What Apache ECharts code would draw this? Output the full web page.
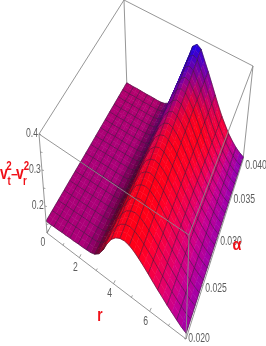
<!DOCTYPE html>
<html><head><meta charset="utf-8"><style>html,body{margin:0;padding:0;background:#fff}#c{width:266px;height:346px}</style>
<script src="https://cdn.jsdelivr.net/npm/echarts@6/dist/echarts.min.js"></script></head><body><div id="c"></div>
<script>
const rValues=[0,.25,.49,.74,.99,1.23,1.48,1.73,1.98,2.22,2.47,2.72,2.96,3.21,3.46,3.70,3.95,4.20,4.44,4.69,4.94,5.18,5.43,5.68,5.93,6.17,6.42,6.67,6.91,7.16,7.41,7.65,7.90];
const alphaValues=[.02,.025,.03,.035,.04];
const z020=[.158,.158,.159,.159,.160,.160,.161,.161,.162,.162,.163,.164,.168,.178,.197,.222,.243,.256,.263,.265,.262,.255,.245,.234,.222,.210,.198,.187,.176,.166,.156,.147,.140];
const z025=[.155,.155,.156,.156,.157,.157,.158,.158,.159,.159,.160,.161,.166,.178,.200,.229,.256,.274,.284,.288,.285,.276,.264,.250,.235,.220,.205,.191,.178,.166,.156,.147,.140];
const z030=[.152,.152,.153,.153,.154,.154,.155,.155,.155,.156,.156,.158,.164,.178,.205,.240,.272,.296,.310,.315,.311,.300,.285,.267,.248,.229,.211,.194,.179,.166,.155,.145,.138];
const z035=[.150,.150,.150,.150,.151,.151,.151,.151,.152,.152,.153,.155,.162,.178,.208,.246,.284,.316,.336,.345,.340,.325,.305,.281,.256,.232,.211,.192,.176,.163,.151,.142,.136];
const z040=[.147,.147,.147,.148,.148,.148,.148,.149,.149,.149,.150,.153,.160,.175,.210,.250,.290,.330,.368,.380,.372,.345,.318,.290,.262,.236,.212,.192,.174,.160,.148,.140,.134];
const zRows=[z020,z025,z030,z035,z040];
const rTicks=[0,2,4,6];
const alphaTicks=[.02,.025,.03,.035,.04];
const alphaLabels=['0.020','0.025','0.030','0.035','0.040'];
const zTicks=[.2,.3,.4];
const zLabels=['0.2','0.3','0.4'];

// camera: where the box corners land on the page
const R_MAX=7.9,A_MIN=.02,A_MAX=.04,Z_MIN=.125,Z_MAX=.4;
const bottomQuad=[[47,233],[186,339],[243,160],[127,90]];
const topQuad=[[39,134],[189,235],[253,66],[124,0]];
function homography(q){
  const [x0,y0]=q[0],[x1,y1]=q[1],[x2,y2]=q[2],[x3,y3]=q[3];
  const dx1=x1-x2,dx2=x3-x2,sx=x0-x1+x2-x3,dy1=y1-y2,dy2=y3-y2,sy=y0-y1+y2-y3;
  const den=dx1*dy2-dx2*dy1,g=(sx*dy2-dx2*sy)/den,h=(dx1*sy-sx*dy1)/den;
  const a=x1-x0+g*x1,b=x3-x0+h*x3,d=y1-y0+g*y1,e=y3-y0+h*y3;
  return (u,v)=>{const w=g*u+h*v+1;return [(a*u+b*v+x0)/w,(d*u+e*v+y0)/w];};
}
const Hb=homography(bottomQuad),Ht=homography(topQuad);
function project(r,al,z){
  const u=r/R_MAX,v=(al-A_MIN)/(A_MAX-A_MIN),w=(z-Z_MIN)/(Z_MAX-Z_MIN);
  const p=Hb(u,v),q=Ht(u,v);
  return [p[0]+(q[0]-p[0])*w,p[1]+(q[1]-p[1])*w];
}
// surface colour table (lit colours)
const colorR=[0,2.2,2.7,3.2,3.7,4.2,4.7,5.2,5.7,6.2,6.7,7.2,7.9];
const colorRows=[
 ['ac0078','ac0078','8c0068','700028','e00020','ff0020','ff0018','ff0018','ff0030','f00050','e00070','c80090','a000a8'],
 ['ac0078','ac0078','7c005a','500020','c00018','f00020','ff0018','ff0018','ff0030','f00050','e00070','c80090','a000a8'],
 ['ac0078','ac0078','740054','480028','900040','d00050','f00030','ff0018','ff0020','f80040','e00070','c80090','a000a8'],
 ['b00074','b00074','740058','500060','4800a0','6000a8','a00088','e00040','ff0018','ff0020','f00060','c80090','9800b0'],
 ['b4006c','b4006c','800060','4a0090','2000d0','1000f0','1800e8','5000c8','9800a0','e00050','ff0030','c80088','8800b8']
].map(row=>row.map(h=>[parseInt(h.slice(0,2),16),parseInt(h.slice(2,4),16),parseInt(h.slice(4,6),16)]));
function colorAt(r,aF){
  let k=0;while(k<colorR.length-2&&r>colorR[k+1])k++;
  const t=(r-colorR[k])/(colorR[k+1]-colorR[k]);
  const y=aF*(colorRows.length-1),j=Math.min(Math.floor(y),colorRows.length-2),s=y-j;
  const c=[0,1,2].map(n=>{
    const a=colorRows[j][k][n]+(colorRows[j][k+1][n]-colorRows[j][k][n])*t;
    const b=colorRows[j+1][k][n]+(colorRows[j+1][k+1][n]-colorRows[j+1][k][n])*t;
    return Math.round(a+(b-a)*s);});
  return 'rgb('+c.join(',')+')';
}
const A_STEPS=32;
function zAt(i,aS){
  const y=aS/A_STEPS*(zRows.length-1),j=Math.min(Math.floor(y),zRows.length-2),s=y-j;
  return zRows[j][i]+(zRows[j+1][i]-zRows[j][i])*s;
}
function alAt(aS){return A_MIN+(A_MAX-A_MIN)*aS/A_STEPS;}
const cells=[];
for(let a=A_STEPS-1;a>=0;a--)for(let i=0;i<rValues.length-1;i++)cells.push([i,a]);

const MESH='rgba(45,20,50,.6)';
function renderCell(params,api){
  const i=api.value(0),a=api.value(1);
  const P=(ii,aa)=>api.coord(project(rValues[ii],alAt(aa),zAt(ii,aa)));
  const p00=P(i,a),p10=P(i+1,a),p11=P(i+1,a+1),p01=P(i,a+1);
  const col=colorAt((rValues[i]+rValues[i+1])/2,(a+.5)/A_STEPS);
  const ch=[{type:'polygon',shape:{points:[p00,p10,p11,p01]},style:{fill:col,stroke:col,lineWidth:.5}}];
  const line=(x,y)=>ch.push({type:'line',shape:{x1:x[0],y1:x[1],x2:y[0],y2:y[1]},style:{stroke:MESH,lineWidth:.9}});
  if(i%2===0)line(p00,p01);
  if(a%2===1)line(p01,p11);
  if(a===0)line(p00,p10);
  if(i===rValues.length-2)line(p10,p11);
  return {type:'group',children:ch};
}
const GRAY='#8a8a8a';
const corner=(r,al,z)=>project(r,al,z);
const A=corner(0,A_MIN,Z_MIN),B=corner(R_MAX,A_MIN,Z_MIN),C=corner(R_MAX,A_MAX,Z_MIN),D=corner(0,A_MAX,Z_MIN);
const At=corner(0,A_MIN,Z_MAX),Bt=corner(R_MAX,A_MIN,Z_MAX),Ct=corner(R_MAX,A_MAX,Z_MAX),Dt=corner(0,A_MAX,Z_MAX);
const backLines=[[At,Dt],[Dt,Ct],[Dt,D],[Ct,C],[A,D],[D,C]];
const frontLines=[[At,Bt],[Bt,Ct],[Bt,B],[A,B],[B,C],[At,A]];
const minorR=[0,1,2,3,4,5,6,7];
const minorA=[.02,.0225,.025,.0275,.03,.0325,.035,.0375,.04];
const minorZ=[.15,.2,.25,.3,.35,.4];
function renderLine(params,api){
  const L=lineSet[api.value(0)];
  const a=api.coord(L[0]),b=api.coord(L[1]);
  return {type:'line',shape:{x1:a[0],y1:a[1],x2:b[0],y2:b[1]},style:{stroke:L[2]||GRAY,lineWidth:L[3]||.9}};
}
const lineSet=[],frontIdx=[],backIdx=[];
backLines.forEach(l=>{backIdx.push([lineSet.length]);lineSet.push(l);});
frontLines.forEach(l=>{frontIdx.push([lineSet.length]);lineSet.push(l);});
const addTick=(p,dx,dy)=>{frontIdx.push([lineSet.length]);lineSet.push([p,[p[0]+dx,p[1]+dy],'#777',.7]);};
minorR.forEach(r=>{const p=project(r,A_MIN,Z_MIN);const big=r%2===0;addTick(p,big?1.6:1,big?-3.4:-2);});
minorA.forEach(a=>{const p=project(R_MAX,a,Z_MIN);addTick(p,-1.8,-.4);});
minorZ.forEach(z=>{const p=project(0,A_MIN,z);addTick(p,2,.5);});

const labels=[];
rTicks.forEach((r,k)=>{const p=project(r,A_MIN,Z_MIN);labels.push([p[0]-4,p[1]+10,String(r)]);});
alphaTicks.forEach((a,k)=>{const p=project(R_MAX,a,Z_MIN);labels.push([p[0]+13,p[1]+(k===4?6:3-(k===0?3:0)),alphaLabels[k]]);});
zTicks.forEach((z,k)=>{const p=project(0,A_MIN,z);labels.push([p[0]-7,p[1],zLabels[k]]);});
function renderLabel(params,api){
  const L=labels[api.value(0)],p=api.coord([L[0],L[1]]);
  return {type:'text',x:p[0],y:p[1],scaleX:.72,style:{text:L[2],font:'12px "Liberation Sans"',fill:'#5c5c5c',textAlign:'center',textVerticalAlign:'middle'}};
}
const titleParts=[['v',4,174,18,.78],['t',9,181,13,.75],['2',9,166,13,.75],['\u2212',14.5,175,13,.9],['v',20,174,18,.78],['r',25,181,13,.75],['2',26.5,166,13,.75],['r',100,316,19,.72],['\u03b1',237,245,17,.85]];
function renderTitle(params,api){
  const T=titleParts[api.value(0)],p=api.coord([T[1],T[2]]);
  return {type:'text',x:p[0],y:p[1],scaleX:T[4],style:{text:T[0],font:'bold '+T[3]+'px "Liberation Sans"',fill:'#f01018',textAlign:'center',textVerticalAlign:'middle'}};
}
const ch=echarts.init(document.getElementById('c'),null,{renderer:'canvas'});
const base={type:'custom',coordinateSystem:'cartesian2d',clip:false,silent:true,animation:false};
ch.setOption({animation:false,backgroundColor:'#fff',
 grid:{left:0,right:0,top:0,bottom:0},
 xAxis:{type:'value',min:0,max:266,show:false},
 yAxis:{type:'value',min:0,max:346,inverse:true,show:false},
 series:[
  {...base,renderItem:renderLine,data:backIdx,z:1},
  {...base,renderItem:renderCell,data:cells,z:2,progressive:0},
  {...base,renderItem:renderLine,data:frontIdx,z:3},
  {...base,renderItem:renderLabel,data:labels.map((l,k)=>[k]),z:4},
  {...base,renderItem:renderTitle,data:titleParts.map((l,k)=>[k]),z:5}
 ]});
</script></body></html>
